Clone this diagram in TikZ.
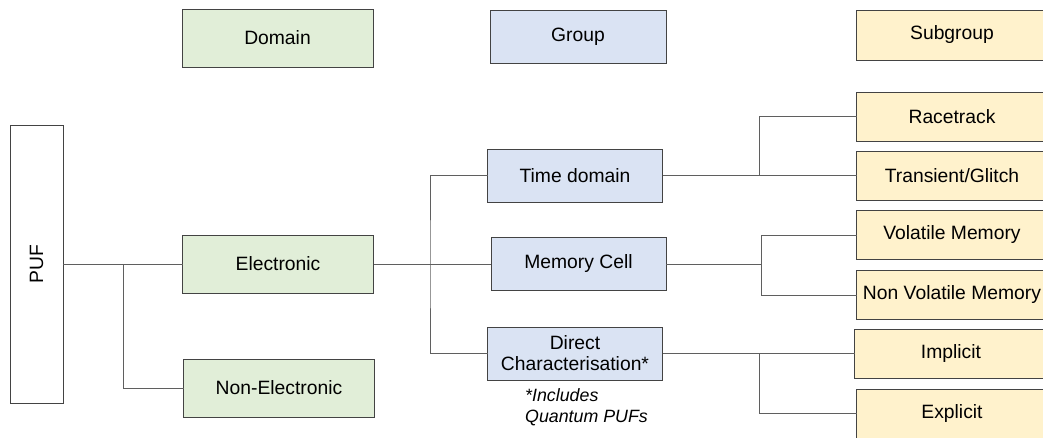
\documentclass[tikz,border=0pt]{standalone}
\usepackage{fontspec}
\setmainfont{Liberation Sans}
\definecolor{dgreen}{HTML}{E1EED8}
\definecolor{dblue}{HTML}{DAE3F3}
\definecolor{dyellow}{HTML}{FFF2CC}
\definecolor{bord}{HTML}{434343}
\definecolor{wire}{HTML}{5F5F5F}
\begin{document}
\begin{tikzpicture}[x=1pt,y=-1pt,
  box/.style={draw=bord,line width=1pt,inner sep=0pt,outer sep=0pt,align=center,
    font=\fontsize{19.3}{21}\selectfont},
  dombox/.style={box,fill=dgreen,minimum width=191pt,minimum height=58pt},
  grpbox/.style={box,fill=dblue,minimum width=175pt,minimum height=53pt},
  subbox/.style={box,fill=dyellow,minimum width=191pt,minimum height=49pt},
  conn/.style={draw=wire,line width=1pt}]
\useasboundingbox (0,0) rectangle (1043,437);
\clip (0,0) rectangle (1043,437);
% legend
\node[dombox] (lgd) at (277.5,38) {Domain};
\node[grpbox,minimum width=176pt] (lgg) at (578,36.5) {Group};
\node[subbox,minimum height=50pt] (lgs) at (952,35) {Subgroup};
% PUF
\node[box,fill=white,minimum width=53pt,minimum height=278pt] (puf) at (36.5,264) {};
\node[font=\fontsize{19.3}{21}\selectfont,rotate=90] (puft) at (puf.center) {PUF};
% domain
\node[dombox] (ele) at (278,264) {Electronic};
\node[dombox] (non) at (279,388) {Non-Electronic};
% group
\node[grpbox] (tim) at (575,175.5) {Time domain};
\node[grpbox] (mem) at (578.5,264) {Memory Cell};
\node[grpbox] (dir) at (575,353.5) {Direct\\Characterisation*};
\node[font=\fontsize{17.8}{21}\itshape,align=left,anchor=north west,inner sep=0pt] (note) at (525,388) {*Includes\\Quantum PUFs};
% subgroups
\node[subbox] (rac) at (952,116.5) {Racetrack};
\node[subbox] (tra) at (952,175.5) {Transient/Glitch};
\node[subbox] (vol) at (952,235) {Volatile Memory};
\node[subbox] (nvm) at (952,295) {Non Volatile Memory};
\node[subbox,minimum width=193pt] (imp) at (951,353.5) {Implicit};
\node[subbox] (exp) at (952,413.5) {Explicit};
% junctions
\coordinate (j1) at (123,264);
\coordinate (j2) at (430,264);
\coordinate (j3) at (759,175.5);
\coordinate (j4) at (761,264);
\coordinate (j5) at (759,353.5);
% connectors
\draw[conn] (puf.east) -- (ele.west);
\draw[conn] (j1) |- (non.west);
\draw[conn] (ele.east) -- (mem.west);
\draw[conn] (tim.west) -| (j2) |- (dir.west);
\draw[conn] (tim.east) -- (tra.west);
\draw[conn] (j3) |- (rac.west);
\draw[conn] (mem.east) -- (j4);
\draw[conn] (vol.west) -| (j4) |- (nvm.west);
\draw[conn] (dir.east) -- (imp.west);
\draw[conn] (j5) |- (exp.west);
\end{tikzpicture}
\end{document}
